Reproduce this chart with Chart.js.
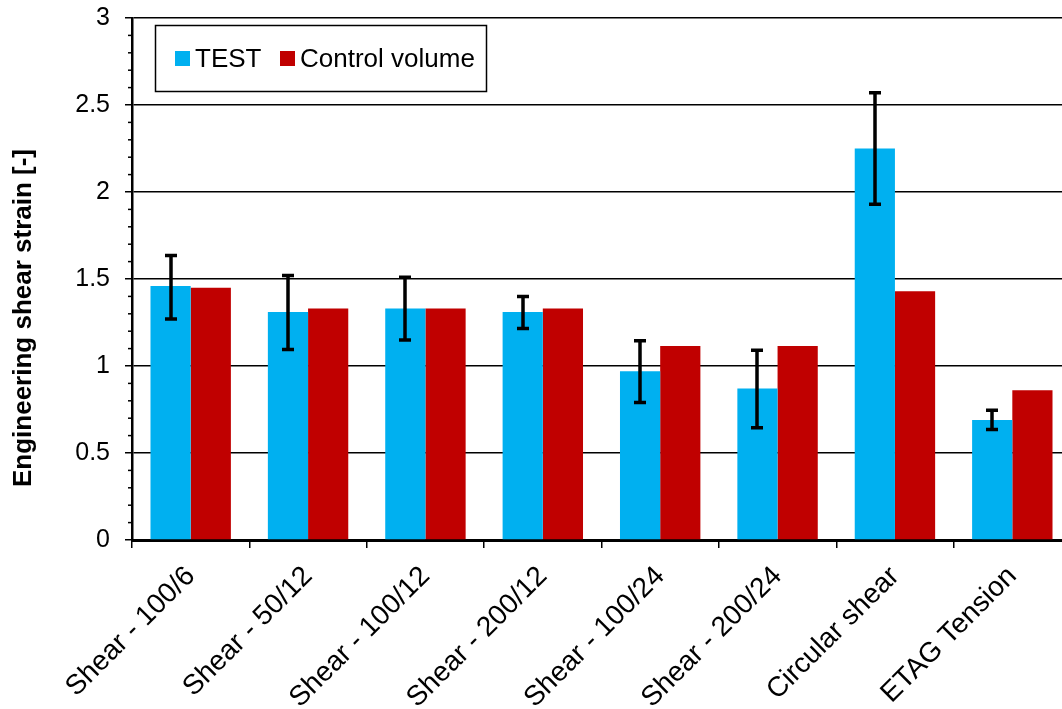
<!DOCTYPE html>
<html>
<head>
<meta charset="utf-8">
<script src="https://cdn.jsdelivr.net/npm/chart.js@4.4.0/dist/chart.umd.min.js"></script>
<style>
  html, body { margin: 0; padding: 0; background: #fff; overflow: hidden; }
  #wrap { width: 1071px; height: 709px; position: relative; }
</style>
</head>
<body>
<div id="wrap"><canvas id="strainChart"></canvas></div>
<script>
// strain per test setup
const categories = ['Shear - 100/6', 'Shear - 50/12', 'Shear - 100/12', 'Shear - 200/12',
                    'Shear - 100/24', 'Shear - 200/24', 'Circular shear', 'ETAG Tension'];
const testValues    = [1.46, 1.31, 1.33, 1.31, 0.97, 0.87, 2.25, 0.69];
const controlValues = [1.45, 1.33, 1.33, 1.33, 1.115, 1.115, 1.43, 0.86];
// scatter of the test results (min / max)
const testLow  = [1.27, 1.095, 1.15, 1.215, 0.79, 0.645, 1.93, 0.635];
const testHigh = [1.635, 1.52, 1.51, 1.40, 1.145, 1.09, 2.57, 0.745];
const yMin = 0, yMax = 3, yStep = 0.5, yMinorStep = 0.1;

const FONT = "'Liberation Sans', Arial, sans-serif";

// vertical min/max bars on the TEST series
const errorBars = {
  id: 'errorBars',
  afterDatasetsDraw(chart) {
    const meta = chart.getDatasetMeta(0);
    const y = chart.scales.y;
    const ctx = chart.ctx;
    ctx.save();
    ctx.strokeStyle = '#000';
    ctx.lineWidth = 3.5;
    meta.data.forEach((bar, i) => {
      const x = Math.round(bar.x);
      const top = y.getPixelForValue(testHigh[i]);
      const bot = y.getPixelForValue(testLow[i]);
      ctx.beginPath();
      ctx.moveTo(x, top); ctx.lineTo(x, bot);
      ctx.moveTo(x - 6, top); ctx.lineTo(x + 6, top);
      ctx.moveTo(x - 6, bot); ctx.lineTo(x + 6, bot);
      ctx.stroke();
    });
    ctx.restore();
  }
};

// small ticks between the labelled ones
const minorTicks = {
  id: 'minorTicks',
  afterDraw(chart) {
    const y = chart.scales.y;
    const ctx = chart.ctx;
    const n = Math.round((yMax - yMin) / yMinorStep);
    ctx.save();
    ctx.strokeStyle = '#000';
    ctx.lineWidth = 1.5;
    for (let i = 1; i < n; i++) {
      const v = yMin + i * yMinorStep;
      if (i % Math.round(yStep / yMinorStep) === 0) continue;
      const py = y.getPixelForValue(v);
      ctx.beginPath();
      ctx.moveTo(y.right - 4, py);
      ctx.lineTo(y.right, py);
      ctx.stroke();
    }
    ctx.restore();
  }
};

// boxed legend inside the plot, plus the axis title
const boxLegend = {
  id: 'boxLegend',
  afterDraw(chart) {
    const ctx = chart.ctx;
    const ds = chart.data.datasets;
    ctx.save();
    ctx.fillStyle = '#fff';
    ctx.fillRect(155.5, 25.5, 331, 66);
    ctx.strokeStyle = '#000';
    ctx.lineWidth = 1.5;
    ctx.strokeRect(155.5, 25.5, 331, 66);
    ctx.font = '26px ' + FONT;
    ctx.textBaseline = 'alphabetic';
    const xs = [175, 280];
    ds.forEach((d, i) => {
      ctx.fillStyle = d.backgroundColor;
      ctx.fillRect(xs[i], 51, 15, 15);
      ctx.fillStyle = '#000';
      ctx.fillText(d.label, xs[i] + 20, 67);
    });

    ctx.translate(24, 318);
    ctx.rotate(-Math.PI / 2);
    ctx.font = 'bold 26px ' + FONT;
    ctx.textAlign = 'center';
    ctx.textBaseline = 'middle';
    ctx.fillText('Engineering shear strain [-]', 0, 0);
    ctx.restore();
  }
};

const ctx = document.getElementById('strainChart').getContext('2d');
new Chart(ctx, {
  type: 'bar',
  data: {
    labels: categories,
    datasets: [
      { label: 'TEST', data: testValues, backgroundColor: '#00B0F0' },
      { label: 'Control volume', data: controlValues, backgroundColor: '#C00000' }
    ]
  },
  options: {
    responsive: true,
    maintainAspectRatio: false,
    animation: false,
    layout: { padding: { top: 18, left: 0, right: 0, bottom: 0 } },
    datasets: { bar: { categoryPercentage: 0.685, barPercentage: 1.0 } },
    plugins: { legend: { display: false }, tooltip: { enabled: false } },
    scales: {
      x: {
        afterFit(scale) { scale.height = 169; scale.paddingRight = 0; },
        grid: { offset: true, drawOnChartArea: false, color: '#000', lineWidth: 1.5, tickLength: 8 },
        border: { display: true, color: '#000', width: 3 },
        ticks: {
          color: '#000', font: { family: FONT, size: 28 },
          maxRotation: 45, minRotation: 45, padding: 12, autoSkip: false
        }
      },
      y: {
        min: yMin, max: yMax,
        afterFit(scale) { scale.width = 132; scale.paddingTop = 0; scale.paddingBottom = 0; },
        grid: { color: '#000', lineWidth: 1.5, tickLength: 7 },
        border: { display: true, color: '#000', width: 2.5 },
        ticks: {
          stepSize: yStep, color: '#000', padding: 15,
          font: { family: FONT, size: 25 },
          callback: v => String(v)
        }
      }
    }
  },
  plugins: [errorBars, minorTicks, boxLegend]
});
</script>
</body>
</html>
